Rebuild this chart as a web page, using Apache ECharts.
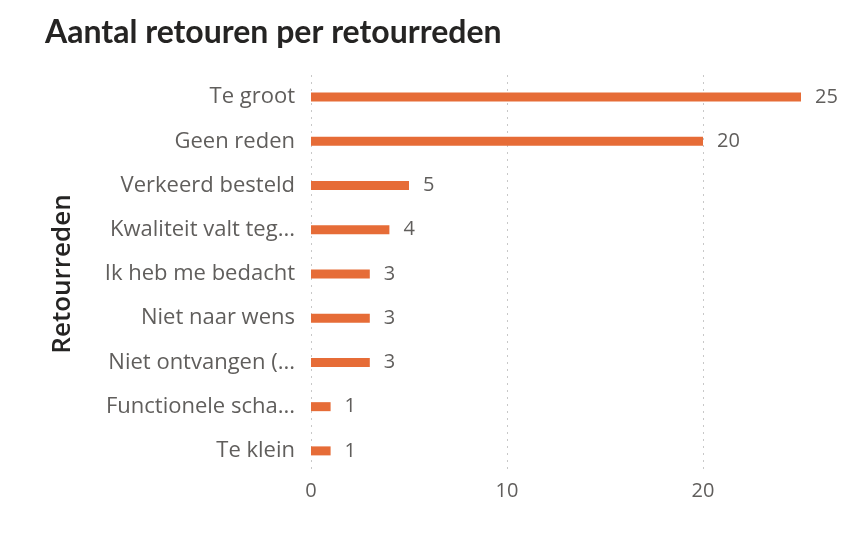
<!DOCTYPE html>
<html>
<head>
<meta charset="utf-8">
<script src="https://cdn.jsdelivr.net/npm/echarts@6/dist/echarts.min.js"></script>
<style>
  html, body { margin: 0; padding: 0; background: #fff; }
  #chart { width: 864px; height: 533px; }
</style>
</head>
<body>
<div id="chart"></div>
<script>
// categorieën van boven naar onder
const redenen = [
    'Te groot',
    'Geen reden',
    'Verkeerd besteld',
    'Kwaliteit valt teg...',
    'Ik heb me bedacht',
    'Niet naar wens',
    'Niet ontvangen (...',
    'Functionele scha...',
    'Te klein'
];
const aantallen = [25, 20, 5, 4, 3, 3, 3, 1, 1];
const xTicks = [0, 10, 20];

const chart = echarts.init(document.getElementById('chart'));
chart.setOption({
    animation: false,
    title: {
        text: 'Aantal retouren per retourreden',
        left: 40,
        top: 12,
        textStyle: {
            fontFamily: 'Lato',
            fontWeight: 'bold',
            fontSize: 32,
            color: '#252423'
        }
    },
    grid: {
        left: 311,
        right: 63,
        top: 75,
        bottom: 60
    },
    xAxis: {
        type: 'value',
        min: 0,
        max: 25,
        axisLine: { show: false },
        axisTick: { show: false, customValues: xTicks },
        axisLabel: {
            customValues: xTicks,
            color: '#605E5C',
            fontFamily: 'Open Sans',
            fontSize: 20,
            margin: 8
        },
        splitLine: {
            show: true,
            lineStyle: { color: '#c8c8c8', type: [2, 5], width: 1 }
        }
    },
    yAxis: {
        type: 'category',
        inverse: true,
        data: redenen,
        name: 'Retourreden',
        nameLocation: 'middle',
        nameGap: 235,
        nameTextStyle: {
            fontFamily: 'Open Sans',
            fontWeight: 600,
            fontSize: 26,
            color: '#252423'
        },
        axisLine: { show: false },
        axisTick: { show: false },
        axisLabel: {
            color: '#605E5C',
            fontFamily: 'Open Sans',
            fontSize: 22,
            margin: 16
        }
    },
    series: [
        {
            type: 'bar',
            data: aantallen,
            barWidth: 9,
            itemStyle: { color: '#E66C37' },
            label: {
                show: true,
                position: 'right',
                distance: 14,
                color: '#605E5C',
                fontFamily: 'Open Sans',
                fontSize: 20
            }
        }
    ]
});
</script>
</body>
</html>
